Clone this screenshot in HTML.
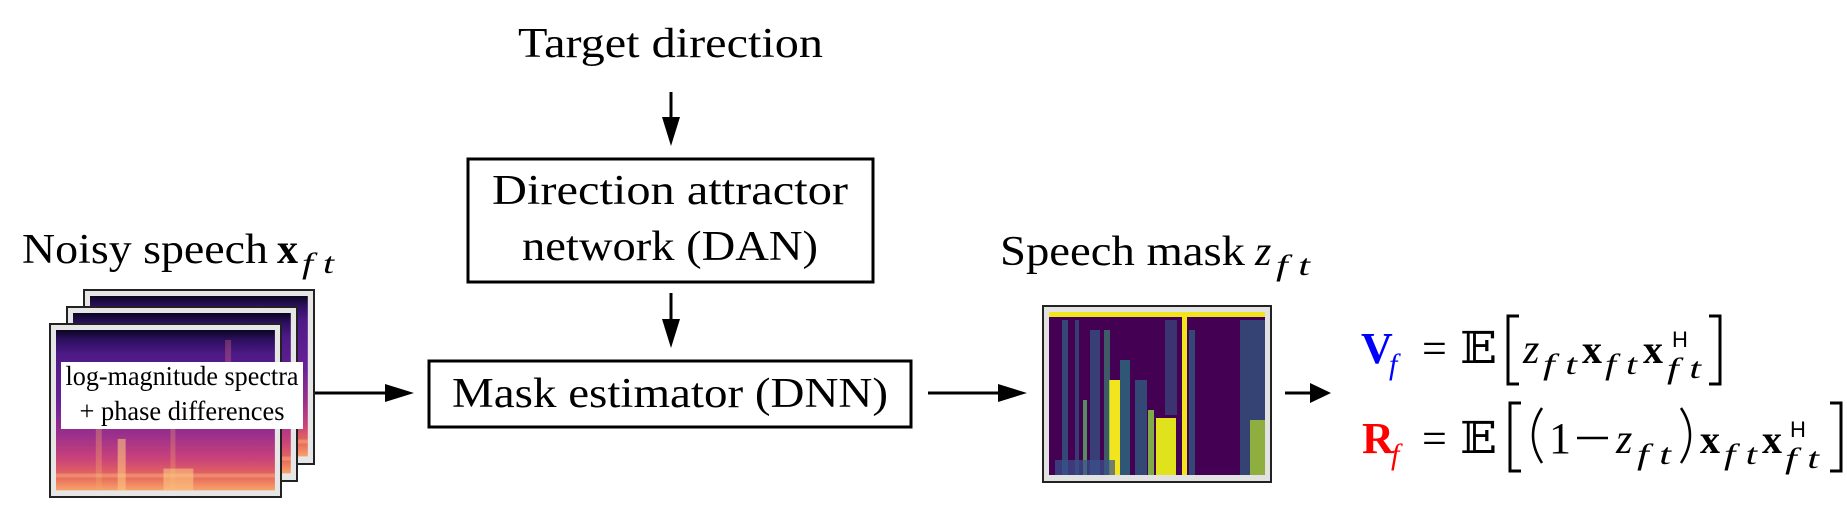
<!DOCTYPE html>
<html><head><meta charset="utf-8"><style>
html,body{margin:0;padding:0;background:#fff;}
svg{display:block;}
text{font-family:"Liberation Serif",serif;fill:#000;}
.it{font-style:italic;}
.b{font-weight:bold;}
</style></head><body>
<svg width="1847" height="505" viewBox="0 0 1847 505" xmlns="http://www.w3.org/2000/svg">
<defs>
<linearGradient id="mag" x1="0" y1="0" x2="0" y2="1">
<stop offset="0" stop-color="#0a0620"/>
<stop offset="0.06" stop-color="#2c0f5e"/>
<stop offset="0.15" stop-color="#4d1a86"/>
<stop offset="0.45" stop-color="#6a2196"/>
<stop offset="0.65" stop-color="#9a2f8c"/>
<stop offset="0.8" stop-color="#c9427a"/>
<stop offset="0.92" stop-color="#e86a5c"/>
<stop offset="1" stop-color="#f7a36a"/>
</linearGradient>
<g id="spec">
<rect x="0" y="0" width="220" height="162" fill="url(#mag)"/>
<rect x="40" y="60" width="6" height="102" fill="#f4a86a" opacity="0.35"/>
<rect x="62" y="110" width="8" height="52" fill="#fbc57f" opacity="0.6"/>
<rect x="115" y="80" width="5" height="82" fill="#f4a86a" opacity="0.3"/>
<rect x="170" y="10" width="6" height="70" fill="#e06a7a" opacity="0.35"/>
<rect x="108" y="140" width="30" height="22" fill="#fbc57f" opacity="0.6"/>
<rect x="0" y="145" width="220" height="4" fill="#fbd08a" opacity="0.35"/>
</g>
</defs>

<text x="22" y="263" font-size="42" textLength="246" lengthAdjust="spacingAndGlyphs">Noisy speech</text>
<text x="277" y="263" font-size="42" class="b">x</text>
<text x="302" y="273" font-size="30" class="it" textLength="32" lengthAdjust="spacingAndGlyphs">f t</text>

<g>
<rect x="84" y="290" width="230" height="174" fill="#e6e6e6" stroke="#222" stroke-width="2"/>
<use href="#spec" transform="translate(90,296) scale(0.99,0.99)"/>
<rect x="67" y="307" width="230" height="174" fill="#e6e6e6" stroke="#222" stroke-width="2"/>
<use href="#spec" transform="translate(73,313) scale(0.99,0.99)"/>
<rect x="50" y="324" width="231" height="173" fill="#e6e6e6" stroke="#222" stroke-width="2"/>
<use href="#spec" transform="translate(56,330) scale(0.995,0.99)"/>
<rect x="61" y="362" width="242" height="67" fill="#fff"/>
<text x="182" y="385" font-size="27" text-anchor="middle" textLength="233" lengthAdjust="spacingAndGlyphs">log-magnitude spectra</text>
<text x="182" y="420" font-size="27" text-anchor="middle" textLength="205" lengthAdjust="spacingAndGlyphs">+ phase differences</text>
</g>

<text x="518" y="57" font-size="42" textLength="305" lengthAdjust="spacingAndGlyphs">Target direction</text>
<line x1="671" y1="92" x2="671" y2="128" stroke="#000" stroke-width="3"/>
<polygon points="662,117 680,117 671,146" fill="#000"/>

<rect x="468" y="159" width="405" height="123" fill="#fff" stroke="#000" stroke-width="3"/>
<text x="670" y="204" font-size="42" text-anchor="middle" textLength="356" lengthAdjust="spacingAndGlyphs">Direction attractor</text>
<text x="670" y="260" font-size="42" text-anchor="middle" textLength="296" lengthAdjust="spacingAndGlyphs">network (DAN)</text>
<line x1="671" y1="293" x2="671" y2="330" stroke="#000" stroke-width="3"/>
<polygon points="662,319 680,319 671,348" fill="#000"/>

<rect x="429" y="361" width="482" height="66" fill="#fff" stroke="#000" stroke-width="3"/>
<text x="670" y="407" font-size="42" text-anchor="middle" textLength="436" lengthAdjust="spacingAndGlyphs">Mask estimator (DNN)</text>

<line x1="315" y1="393" x2="396" y2="393" stroke="#000" stroke-width="3"/>
<polygon points="385,384 385,402 414,393" fill="#000"/>
<line x1="928" y1="393" x2="1010" y2="393" stroke="#000" stroke-width="3"/>
<polygon points="998,384 998,402 1027,393" fill="#000"/>
<line x1="1285" y1="393" x2="1316" y2="393" stroke="#000" stroke-width="3"/>
<polygon points="1310,383 1310,403 1331,393" fill="#000"/>

<text x="1000" y="265" font-size="42" textLength="245" lengthAdjust="spacingAndGlyphs">Speech mask</text>
<text x="1255" y="265" font-size="42" class="it">z</text>
<text x="1276" y="275" font-size="30" class="it" textLength="34" lengthAdjust="spacingAndGlyphs">f t</text>

<rect x="1043" y="306" width="228" height="176" fill="#e2e2e2" stroke="#222" stroke-width="2"/>
<rect x="1049" y="312" width="216" height="163" fill="#440154"/>
<g>
<rect x="1049" y="312" width="216" height="5" fill="#f2e51d"/>
<rect x="1062" y="320" width="6" height="155" fill="#2a788e" opacity="0.6"/>
<rect x="1075" y="320" width="4" height="155" fill="#2a788e" opacity="0.5"/>
<rect x="1083" y="400" width="4" height="75" fill="#5ec962" opacity="0.7"/>
<rect x="1090" y="330" width="10" height="145" fill="#31688e" opacity="0.6"/>
<rect x="1109" y="380" width="11" height="95" fill="#f2e51d"/>
<rect x="1104" y="330" width="6" height="145" fill="#35b779" opacity="0.5"/>
<rect x="1120" y="360" width="10" height="115" fill="#21918c" opacity="0.6"/>
<rect x="1135" y="380" width="12" height="95" fill="#2a788e" opacity="0.6"/>
<rect x="1148" y="410" width="6" height="65" fill="#90d743" opacity="0.8"/>
<rect x="1156" y="418" width="20" height="57" fill="#e0e31c"/>
<rect x="1165" y="320" width="12" height="95" fill="#31688e" opacity="0.5"/>
<rect x="1182" y="315" width="5" height="160" fill="#f2e51d"/>
<rect x="1189" y="330" width="6" height="145" fill="#2a788e" opacity="0.6"/>
<rect x="1240" y="320" width="25" height="155" fill="#2a788e" opacity="0.55"/>
<rect x="1250" y="420" width="15" height="55" fill="#b5de2b" opacity="0.7"/>
<rect x="1055" y="460" width="60" height="15" fill="#3b528b" opacity="0.7"/>
</g>

<text x="1361" y="363" font-size="44" class="b" style="fill:#0000ff">V</text>
<text x="1389" y="374" font-size="30" class="it" style="fill:#0000ff">f</text>
<text x="1422" y="363" font-size="44">=</text>
<text x="1460" y="363" font-size="44" textLength="37" lengthAdjust="spacingAndGlyphs" style="font-family:'DejaVu Serif',serif">𝔼</text>
<path d="M1519,316 H1508 V384 H1519" fill="none" stroke="#000" stroke-width="3"/>
<text x="1523" y="363" font-size="42" class="it">z</text>
<text x="1543" y="374" font-size="30" class="it" textLength="34" lengthAdjust="spacingAndGlyphs">f t</text>
<text x="1582" y="363" font-size="40" class="b">x</text>
<text x="1605" y="374" font-size="30" class="it" textLength="32" lengthAdjust="spacingAndGlyphs">f t</text>
<text x="1643" y="363" font-size="40" class="b">x</text>
<text x="1672" y="347" font-size="22" style="font-family:'Liberation Sans',sans-serif">H</text>
<text x="1667" y="378" font-size="30" class="it" textLength="34" lengthAdjust="spacingAndGlyphs">f t</text>
<path d="M1709,316 H1720 V384 H1709" fill="none" stroke="#000" stroke-width="3"/>

<text x="1362" y="453" font-size="44" class="b" style="fill:#ff0000">R</text>
<text x="1391" y="464" font-size="30" class="it" style="fill:#ff0000">f</text>
<text x="1422" y="453" font-size="44">=</text>
<text x="1460" y="453" font-size="44" textLength="37" lengthAdjust="spacingAndGlyphs" style="font-family:'DejaVu Serif',serif">𝔼</text>
<path d="M1521,403 H1510 V471 H1521" fill="none" stroke="#000" stroke-width="3"/>
<path d="M1542,408 Q1524,435 1542,463" fill="none" stroke="#000" stroke-width="2.5"/>
<text x="1549" y="453" font-size="44">1</text>
<line x1="1577" y1="438" x2="1608" y2="438" stroke="#000" stroke-width="2.5"/>
<text x="1616" y="453" font-size="42" class="it">z</text>
<text x="1637" y="464" font-size="30" class="it" textLength="34" lengthAdjust="spacingAndGlyphs">f t</text>
<path d="M1681,408 Q1699,435 1681,463" fill="none" stroke="#000" stroke-width="2.5"/>
<text x="1700" y="453" font-size="40" class="b">x</text>
<text x="1724" y="464" font-size="30" class="it" textLength="33" lengthAdjust="spacingAndGlyphs">f t</text>
<text x="1762" y="453" font-size="40" class="b">x</text>
<text x="1790" y="437" font-size="22" style="font-family:'Liberation Sans',sans-serif">H</text>
<text x="1785" y="468" font-size="30" class="it" textLength="34" lengthAdjust="spacingAndGlyphs">f t</text>
<path d="M1830,403 H1841 V471 H1830" fill="none" stroke="#000" stroke-width="3"/>
</svg>
</body></html>
